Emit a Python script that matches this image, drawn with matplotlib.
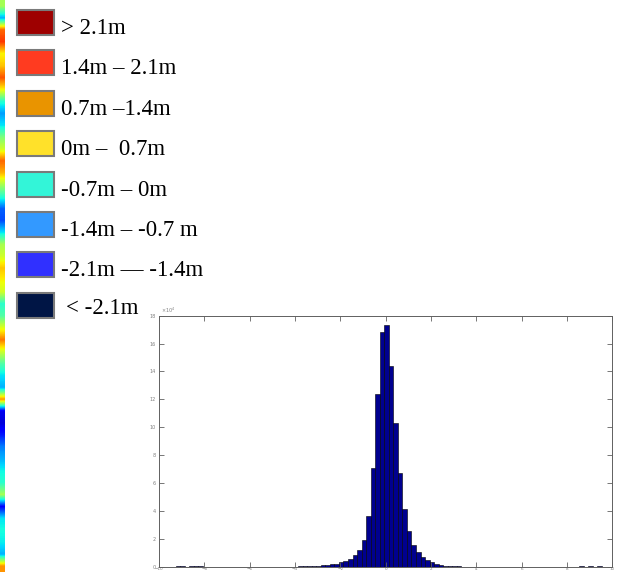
import matplotlib.pyplot as plt
from matplotlib.patches import Rectangle
import numpy as np

# legend of the height map
legend_labels = ["> 2.1m", "1.4m \u2013 2.1m", "0.7m \u20131.4m", "0m \u2013  0.7m",
                 "-0.7m \u2013 0m", "-1.4m \u2013 -0.7 m", "-2.1m \u2014 -1.4m", "< -2.1m"]
legend_colors = ["#9e0000", "#ff3b20", "#e99400", "#ffe12a",
                 "#33f5d8", "#3399ff", "#3030ff", "#001545"]

# jet values of the cropped map strip on the left edge, top to bottom
strip_values = [0.55, 0.30, 0.80, 0.85, 0.65, 0.70, 0.82, 0.65, 0.40, 0.28, 0.35, 0.50,
                0.60, 0.80, 0.72, 0.55, 0.40, 0.22, 0.20, 0.35, 0.55, 0.60, 0.70, 0.65,
                0.60, 0.40, 0.45, 0.62, 0.78, 0.60, 0.45, 0.35, 0.30, 0.75, 0.10, 0.08,
                0.15, 0.25, 0.30, 0.37, 0.40, 0.55, 0.12, 0.35, 0.38, 0.36, 0.30, 0.75]

# histogram of height differences (bin centres in m, counts in 10^4)
bin_centers = [-9.16, -8.96, -8.56, -8.36, -8.16,
               -3.96, -3.76, -3.56, -3.36, -3.16, -2.96, -2.76, -2.56, -2.36, -2.16,
               -1.96, -1.76, -1.56, -1.36, -1.16, -0.96, -0.76, -0.56, -0.36, -0.16,
               0.04, 0.24, 0.44, 0.64, 0.84, 1.04, 1.24, 1.44, 1.64, 1.84,
               2.04, 2.24, 2.44, 2.64, 2.84, 3.04, 3.24, 3.44,
               8.64, 9.04, 9.44]
counts_e4 = [0.04, 0.04, 0.04, 0.04, 0.04,
             0.008, 0.015, 0.025, 0.035, 0.05, 0.07, 0.09, 0.12, 0.16, 0.22,
             0.30, 0.43, 0.55, 0.86, 1.21, 1.93, 3.60, 7.07, 12.36, 16.86,
             17.30, 14.38, 10.30, 6.69, 4.12, 2.57, 1.57, 1.05, 0.69, 0.45,
             0.30, 0.20, 0.13, 0.08, 0.05, 0.03, 0.02, 0.01,
             0.04, 0.04, 0.04]
x_ticks = [-10, -8, -6, -4, -2, 0, 2, 4, 6, 8, 10]
y_ticks = [0, 2, 4, 6, 8, 10, 12, 14, 16, 18]

fig = plt.figure(figsize=(6.17, 5.72), dpi=100)

# background layer in pixel coordinates
bg = fig.add_axes([0, 0, 1, 1])
bg.set_xlim(0, 617)
bg.set_ylim(572, 0)
bg.axis("off")
bg.imshow(np.array(strip_values).reshape(-1, 1), cmap="jet", vmin=0, vmax=1,
          extent=(0, 4.5, 572, 0), aspect="auto", interpolation="bilinear")

for i, (lab, col) in enumerate(zip(legend_labels, legend_colors)):
    top = 10 + 40.4 * i
    bg.add_patch(Rectangle((17, top), 37, 25, facecolor=col, edgecolor="#7a7a7a", linewidth=1.5))
    tx = 66 if i == 7 else 61
    ty = top + 21 if i == 7 else top + 24
    bg.text(tx, ty, lab, fontsize=16.5, family="Liberation Serif", va="baseline", ha="left")

# histogram
ax = fig.add_axes([0.2577, 0.0093, 0.7347, 0.4388])
ax.bar(bin_centers, counts_e4, width=0.2, color="#00008f", edgecolor="black", linewidth=0.4)
ax.set_xlim(-10, 10)
ax.set_ylim(0, 18)
ax.set_xticks(x_ticks)
ax.set_yticks(y_ticks)
ax.tick_params(direction="in", length=3.5, width=0.6, color="#606060", labelsize=3.5,
               labelcolor="#808080", pad=2, top=True, right=True)
ax.tick_params(axis="x", labelsize=3, pad=0.3)
for s in ax.spines.values():
    s.set_color("#606060")
    s.set_linewidth(0.7)
ax.text(0.005, 1.004, "\u00d710$^4$", transform=ax.transAxes, fontsize=3.5, color="#808080",
        va="bottom", ha="left")

fig.savefig("out.png", dpi=100)
